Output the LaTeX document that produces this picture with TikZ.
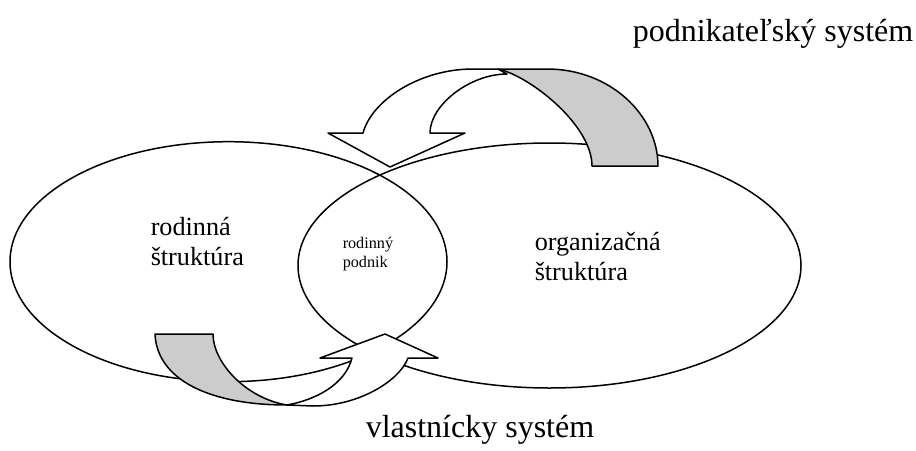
\documentclass[tikz,border=0pt]{standalone}
\usepackage{fontspec}
\setmainfont{Liberation Serif}
\definecolor{bandgray}{HTML}{CCCCCC}
\begin{document}
\begin{tikzpicture}[x=1pt,y=-1pt,line width=1.5pt,
  band/.style={draw=black,fill=white,line join=round},
  back/.style={draw=black,fill=bandgray,line join=round},
  title/.style={font=\fontsize{32}{38}\selectfont,anchor=base west,inner sep=0pt},
  label/.style={font=\fontsize{26.2}{30}\selectfont,anchor=base west,inner sep=0pt,align=left},
  small/.style={font=\fontsize{16.2}{19}\selectfont,anchor=base west,inner sep=0pt,align=left}]
\useasboundingbox (0,0) rectangle (916,450);
% the two systems
\draw (228.5,261.7) ellipse [x radius=218.5pt, y radius=120pt];
\draw (549.5,265.5) ellipse [x radius=251.5pt, y radius=122.5pt];
% top curved arrow
\filldraw[band] (328,133) -- (363,133) .. controls (372,100) and (420,69) .. (473,69) -- (498,69) -- (507,74)
  .. controls (470,74) and (430,105) .. (430,133) -- (465,133) -- (390,167) -- cycle;
\filldraw[back] (498,69) -- (547,69) .. controls (610,69) and (658,115) .. (658,166) -- (592,166)
  .. controls (592,125) and (530,76) .. (498,69) -- cycle;
% bottom curved arrow
\filldraw[back] (155,334) -- (213,334) .. controls (213,362) and (245,398) .. (287,405)
  .. controls (210,405) and (157,380) .. (155,334) -- cycle;
\filldraw[band] (287,405) -- (313,406) .. controls (360,406) and (400,380) .. (408,358) -- (438,358)
  -- (385,334) -- (320,358) -- (352,358) .. controls (345,385) and (315,400) .. (287,405) -- cycle;
% texts
\node[title] (ps) at (632,41) {podnikateľský systém};
\node[title] (vs) at (365,437) {vlastnícky systém};
\node[label] (rs) at (150,265) {rodinná\\štruktúra};
\node[label] (os) at (534,280) {organizačná\\štruktúra};
\node[small] (rp) at (342,267) {rodinný\\podnik};
\end{tikzpicture}
\end{document}
